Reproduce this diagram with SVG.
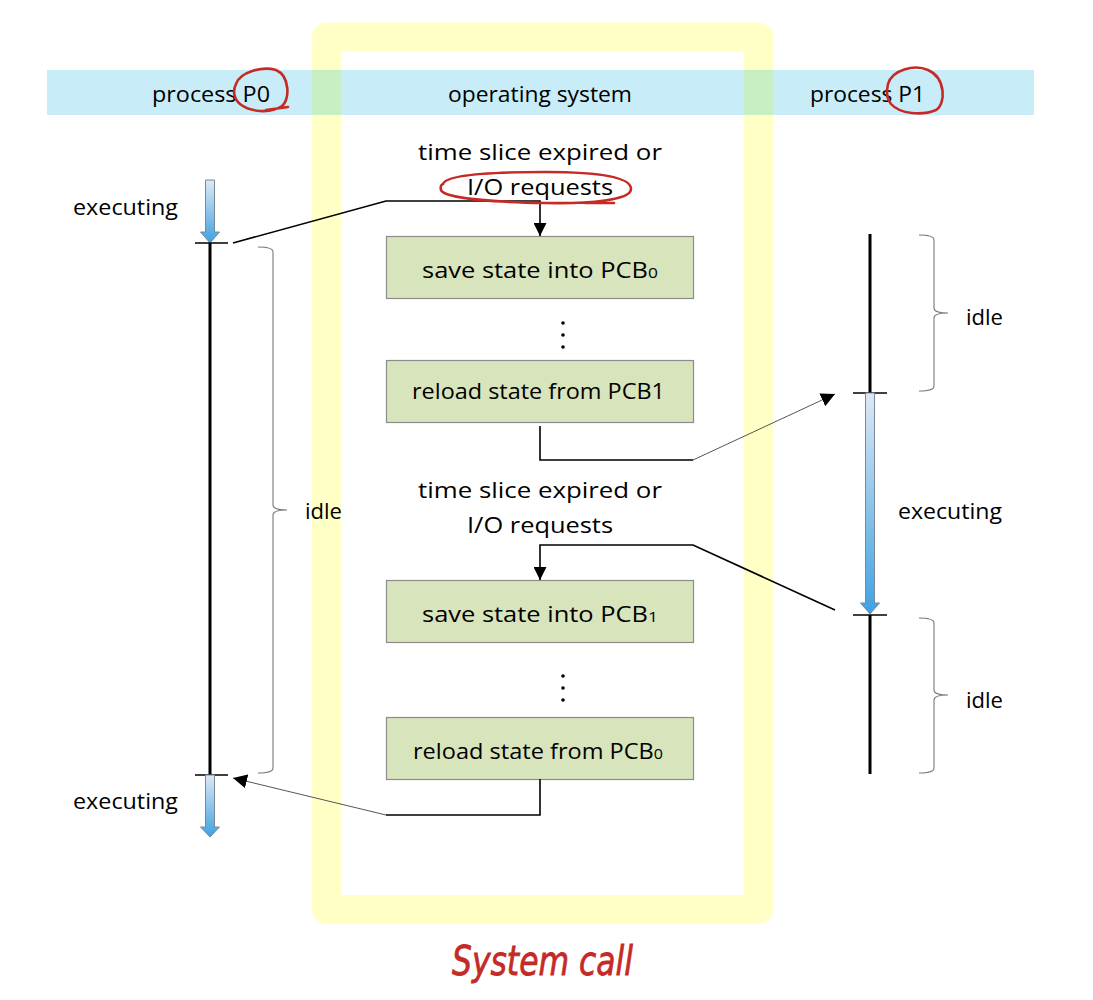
<svg xmlns="http://www.w3.org/2000/svg" width="1093" height="1000" viewBox="0 0 1093 1000">
<style>
.t{font-family:"Open Sans",Lato,"DejaVu Sans",sans-serif;font-size:22.5px;fill:#000}
.bt{font-family:"Open Sans",Lato,"DejaVu Sans",sans-serif;font-size:22px;fill:#000}
.sub{font-size:15px}
.box{fill:#d8e4bc;stroke:#8c8c8c;stroke-width:1.2}
.con{fill:none;stroke:#000;stroke-width:1.6}
.thin{fill:none;stroke:#555;stroke-width:1}
.tl{stroke:#000;stroke-width:3}
.tick{stroke:#000;stroke-width:1.5}
.brace{fill:none;stroke:#777;stroke-width:1.1}
.red{fill:none;stroke:#c42a26;stroke-width:2.6;stroke-linecap:round}
.barrow{fill:url(#bg);stroke:#7a8898;stroke-width:1}
</style>
<defs>
<linearGradient id="bg" x1="0" y1="0" x2="0" y2="1">
<stop offset="0" stop-color="#dde8f3"/>
<stop offset="1" stop-color="#3ea2e2"/>
</linearGradient>
<marker id="ah" markerWidth="13" markerHeight="13" viewBox="0 0 10 10" refX="10" refY="5" orient="auto" markerUnits="userSpaceOnUse">
<path d="M0,0 L10,5 L0,10 z" fill="#000"/>
</marker>
<marker id="ah2" markerWidth="14" markerHeight="14" viewBox="0 0 10 10" refX="10" refY="5" orient="auto" markerUnits="userSpaceOnUse">
<path d="M0,0 L10,5 L0,10 z" fill="#000"/>
</marker>
</defs>
<rect width="1093" height="1000" fill="#fff"/>
<g id="band">
<rect x="47" y="70" width="987" height="45" fill="#c8ecf8"/>
</g>
<g id="os-frame">
<rect x="326.5" y="37" width="432" height="872.5" fill="none" stroke="#ffffc6" stroke-width="29" stroke-linejoin="round"/>
<rect x="312" y="70" width="29" height="45" fill="#c8efc4"/>
<rect x="744" y="70" width="29" height="45" fill="#c8efc4"/>
</g>
<g id="headers">
<text class="t" x="152" y="102" textLength="118" lengthAdjust="spacingAndGlyphs">process P0</text>
<text class="t" x="448" y="102" textLength="184" lengthAdjust="spacingAndGlyphs">operating system</text>
<text class="t" x="810" y="102" textLength="115" lengthAdjust="spacingAndGlyphs">process P1</text>
</g>
<g id="event1">
<text class="t" x="418" y="160" textLength="244" lengthAdjust="spacingAndGlyphs">time slice expired or</text>
<text class="t" x="467" y="195" textLength="146" lengthAdjust="spacingAndGlyphs">I/O requests</text>
</g>
<g id="event2">
<text class="t" x="418" y="498" textLength="244" lengthAdjust="spacingAndGlyphs">time slice expired or</text>
<text class="t" x="467" y="533" textLength="146" lengthAdjust="spacingAndGlyphs">I/O requests</text>
</g>
<g id="box1">
<rect class="box" x="386.5" y="236.5" width="307" height="62"/>
<text class="bt" x="422" y="278" textLength="236" lengthAdjust="spacingAndGlyphs">save state into PCB<tspan class="sub">0</tspan></text>
</g>
<g id="dots1" fill="#000">
<circle cx="563" cy="323" r="1.8"/><circle cx="563" cy="335" r="1.8"/><circle cx="563" cy="347" r="1.8"/>
</g>
<g id="box2">
<rect class="box" x="386.5" y="360.5" width="307" height="62"/>
<text class="bt" x="412" y="399" textLength="253" lengthAdjust="spacingAndGlyphs">reload state from PCB1</text>
</g>
<g id="box3">
<rect class="box" x="386.5" y="580.5" width="307" height="62"/>
<text class="bt" x="422" y="622" textLength="236" lengthAdjust="spacingAndGlyphs">save state into PCB<tspan class="sub">1</tspan></text>
</g>
<g id="dots2" fill="#000">
<circle cx="563" cy="676" r="1.8"/><circle cx="563" cy="688" r="1.8"/><circle cx="563" cy="700" r="1.8"/>
</g>
<g id="box4">
<rect class="box" x="386.5" y="717.5" width="307" height="62"/>
<text class="bt" x="413" y="759" textLength="250" lengthAdjust="spacingAndGlyphs">reload state from PCB<tspan class="sub">0</tspan></text>
</g>
<g id="p0-timeline">
<path class="barrow" d="M205.5,180 h9 v52 h5 l-9.5,11 l-9.5,-11 h5 z"/>
<line class="tick" x1="195" y1="243" x2="228" y2="243"/>
<line class="tl" x1="210" y1="243" x2="210" y2="775"/>
<line class="tick" x1="195" y1="775" x2="228" y2="775"/>
<path class="barrow" d="M205.5,775 h9 v52 h5 l-9.5,10 l-9.5,-10 h5 z"/>
<text class="t" x="73" y="215" textLength="105" lengthAdjust="spacingAndGlyphs">executing</text>
<text class="t" x="73" y="809" textLength="105" lengthAdjust="spacingAndGlyphs">executing</text>
<path class="brace" d="M258,247 Q273,247 273,252 L273,505 Q273,510 287,510 Q273,510 273,515 L273,768 Q273,773 258,773"/>
<text class="t" x="305" y="519" textLength="37" lengthAdjust="spacingAndGlyphs">idle</text>
</g>
<g id="p1-timeline">
<line class="tl" x1="870" y1="234" x2="870" y2="393"/>
<line class="tick" x1="853" y1="393" x2="887" y2="393"/>
<path class="barrow" d="M865.5,393 h9 v210 h5 l-9.5,11 l-9.5,-11 h5 z"/>
<line class="tick" x1="853" y1="615" x2="887" y2="615"/>
<line class="tl" x1="870" y1="615" x2="870" y2="774"/>
<text class="t" x="898" y="519" textLength="104" lengthAdjust="spacingAndGlyphs">executing</text>
<path class="brace" d="M919,235 Q934,235 934,240 L934,308 Q934,313 948,313 Q934,313 934,318 L934,386 Q934,391 919,391"/>
<text class="t" x="966" y="325" textLength="37" lengthAdjust="spacingAndGlyphs">idle</text>
<path class="brace" d="M919,618 Q934,618 934,623 L934,690 Q934,695 948,695 Q934,695 934,700 L934,768 Q934,773 919,773"/>
<text class="t" x="966" y="708" textLength="37" lengthAdjust="spacingAndGlyphs">idle</text>
</g>
<g id="connectors">
<path class="con" d="M233,243 L386,201 L540,201 L540,236" marker-end="url(#ah)"/>
<path class="con" d="M540,426 L540,460 L693,460"/>
<path class="thin" d="M693,460 L835,394" marker-end="url(#ah2)"/>
<path class="con" d="M835,610 L693,545 L540,545 L540,580" marker-end="url(#ah)"/>
<path class="con" d="M540,779 L540,815 L386,815"/>
<path class="thin" d="M386,815 L233,778" marker-end="url(#ah2)"/>
</g>
<g id="annotations">
<path class="red" d="M236,84 C240,72 262,66 276,70 C290,76 290,100 282,106 C270,114 250,112 240,104 C233,98 233,90 236,84 M266,110 L288,107"/>
<path class="red" d="M888,84 C892,70 914,64 928,70 C946,78 946,104 936,110 C922,116 900,114 891,104 C886,98 886,92 888,84"/>
<path class="red" d="M443,184 C446,174 500,172 545,172 C600,172 631,177 631,189 C631,200 590,204 545,203 C490,202 444,198 441,190 C440,186 441,185 443,184 M585,203 L614,203"/>
<text x="452" y="975" font-family="'DejaVu Sans',sans-serif" font-style="italic" font-size="40" fill="#c42a26" stroke="#c42a26" stroke-width="0.8" textLength="181" lengthAdjust="spacingAndGlyphs">System call</text>
</g>
</svg>
